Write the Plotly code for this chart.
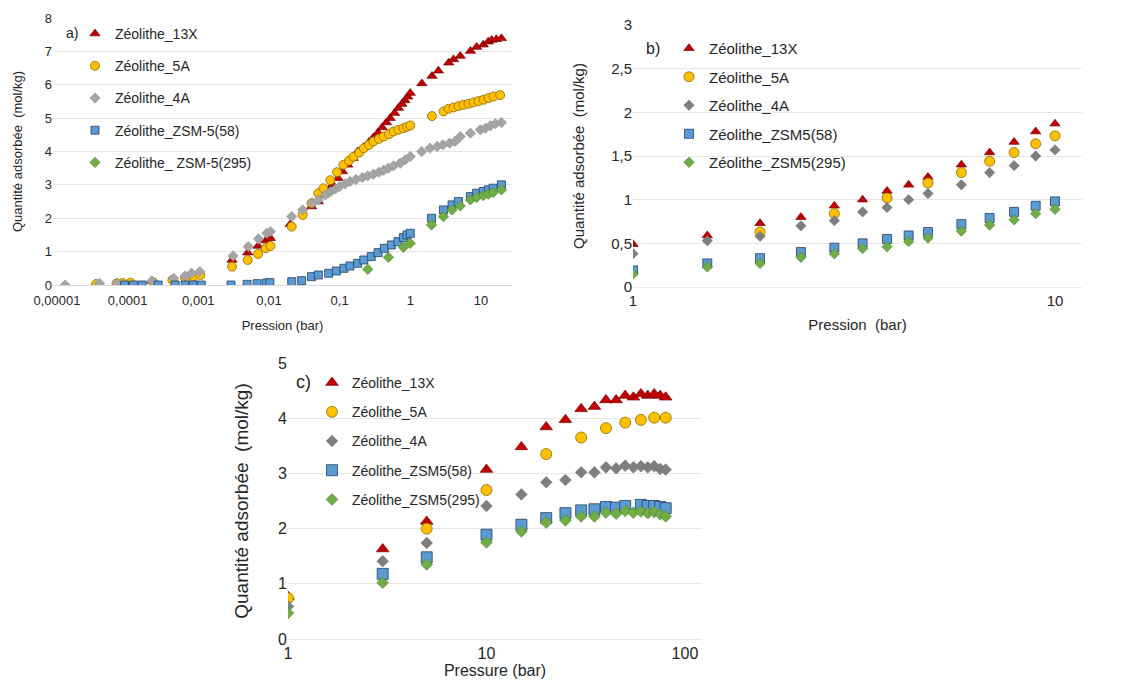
import plotly.graph_objects as go

# browser body margin is 8px: figure is sized to fit inside the 1130x698 window
OFF = 8
W, H = 1130 - OFF, 698 - OFF
FONT = "Liberation Sans, Arial, sans-serif"

# ---------------- Panel a) data ----------------
a_13x_p = [3.5e-5, 7e-5, 2.2e-4, 0.003, 0.005, 0.007, 0.009, 0.0105, 0.02, 0.04,
           0.05, 0.06, 0.07, 0.08, 0.095, 0.11, 0.13, 0.155, 0.18, 0.22, 0.26, 0.3,
           0.35, 0.4, 0.46, 0.52, 0.6, 0.68, 0.76, 0.84, 0.92, 1.0,
           1.46, 2.03, 2.5, 3.5, 4.1, 5.1, 7.1, 8.7, 10.8, 12.7, 14.2, 16.5, 19.5]
a_13x_q = [0.03, 0.05, 0.12, 0.75, 0.97, 1.17, 1.33, 1.4, 1.82, 2.35,
           2.5, 2.7, 2.84, 3.0, 3.2, 3.4, 3.6, 3.8, 4.0, 4.13, 4.28, 4.42,
           4.57, 4.72, 4.87, 5.0, 5.15, 5.3, 5.42, 5.53, 5.64, 5.75,
           6.04, 6.26, 6.42, 6.66, 6.76, 6.86, 7.01, 7.13, 7.2, 7.29, 7.34, 7.36, 7.39]

a_5a_p = [3.6e-5, 7e-5, 8.5e-5, 1.1e-4, 2.3e-4, 4.3e-4, 6.5e-4, 8.5e-4, 1.07e-3,
          0.003, 0.005, 0.007, 0.009, 0.0105, 0.021, 0.03, 0.04,
          0.05, 0.059, 0.074, 0.092, 0.113, 0.135, 0.157, 0.19, 0.22, 0.26, 0.3,
          0.36, 0.42, 0.5, 0.58, 0.68, 0.8, 0.9, 1.0,
          2.03, 2.96, 3.48, 4.1, 4.82, 5.68, 6.68, 7.86, 9.25, 10.9, 12.8, 15.1, 18.7]
a_5a_q = [0.03, 0.05, 0.06, 0.07, 0.08, 0.15, 0.2, 0.25, 0.3,
          0.55, 0.75, 0.93, 1.1, 1.17, 1.75, 2.1, 2.45,
          2.75, 2.9, 3.14, 3.38, 3.6, 3.72, 3.84, 3.97, 4.1, 4.2, 4.3,
          4.38, 4.45, 4.52, 4.6, 4.65, 4.7, 4.74, 4.78,
          5.06, 5.2, 5.28, 5.32, 5.36, 5.4, 5.43, 5.47, 5.51, 5.55, 5.6, 5.65, 5.69]

a_4a_p = [1.3e-5, 4e-5, 7e-5, 2.2e-4, 4.5e-4, 6.5e-4, 8e-4, 1.05e-3,
          0.0031, 0.0051, 0.0071, 0.0093, 0.0105, 0.021, 0.03, 0.041,
          0.05, 0.063, 0.075, 0.087, 0.1, 0.12, 0.14, 0.17, 0.21, 0.25, 0.3,
          0.36, 0.42, 0.49, 0.58, 0.72, 0.85, 1.0,
          1.45, 1.9, 2.4, 2.9, 3.6, 4.3, 5.1, 7.1, 9.8, 11.6, 13.6, 16.0, 19.5]
a_4a_q = [0.0, 0.05, 0.05, 0.12, 0.2, 0.27, 0.35, 0.4,
          0.87, 1.15, 1.38, 1.55, 1.6, 2.05, 2.25, 2.46,
          2.55, 2.7, 2.8, 2.88, 2.95, 3.03, 3.1, 3.16, 3.22, 3.27, 3.32,
          3.38, 3.44, 3.5, 3.57, 3.65, 3.75, 3.85,
          4.0, 4.1, 4.15, 4.2, 4.25, 4.3, 4.45, 4.55, 4.65, 4.7, 4.77, 4.83, 4.87]

a_z58_p = [9e-5, 1.2e-4, 1.6e-4, 2.7e-4, 4.7e-4, 6.5e-4, 8.5e-4, 1.1e-3,
           0.0029, 0.0049, 0.0068, 0.0092, 0.0103, 0.021, 0.029,
           0.04, 0.05, 0.07, 0.09, 0.115, 0.14, 0.18, 0.22, 0.28, 0.35, 0.43,
           0.54, 0.67, 0.8, 0.9, 1.0,
           2.0, 2.95, 3.9, 4.8, 7.1, 8.7, 10.8, 12.7, 14.9, 19.5]
a_z58_q = [0.0, 0.0, 0.0, 0.0, 0.0, 0.0, 0.0, 0.0,
           0.0, 0.02, 0.04, 0.06, 0.07, 0.1, 0.13,
           0.25, 0.3, 0.35, 0.42, 0.5, 0.57, 0.65, 0.75, 0.85, 0.97, 1.1,
           1.2, 1.3, 1.42, 1.5, 1.55,
           2.0, 2.25, 2.4, 2.5, 2.65, 2.75, 2.8, 2.85, 2.9, 3.0]

a_z295_p = [0.25, 0.49, 0.8, 1.0, 2.0, 2.95, 3.9, 5.1, 7.1, 8.7, 10.8, 12.7, 14.9, 19.5]
a_z295_q = [0.47, 0.83, 1.13, 1.25, 1.8, 2.05, 2.25, 2.37, 2.55, 2.62, 2.68, 2.72, 2.77, 2.85]

a_names = ["Zéolithe_13X", "Zéolithe_5A", "Zéolithe_4A",
           "Zéolithe_ZSM-5(58)", "Zéolithe_ ZSM-5(295)"]
a_xticks = [1e-5, 1e-4, 1e-3, 1e-2, 1e-1, 1, 10]
a_xticktext = ["0,00001", "0,0001", "0,001", "0,01", "0,1", "1", "10"]

# ---------------- Panel b) data ----------------
b_p = [1, 1.5, 2, 2.5, 3, 3.5, 4, 4.5, 5, 6, 7, 8, 9, 10]
b_13x = [0.49, 0.59, 0.73, 0.80, 0.93, 1.0, 1.10, 1.17, 1.26, 1.40, 1.54, 1.66, 1.78, 1.87]
b_5a_p = [2, 3, 4, 5, 6, 7, 8, 9, 10]
b_5a = [0.63, 0.84, 1.02, 1.19, 1.31, 1.44, 1.54, 1.64, 1.73]
b_4a = [0.38, 0.53, 0.58, 0.70, 0.76, 0.86, 0.91, 1.0, 1.07, 1.17, 1.31, 1.39, 1.50, 1.57]
b_z58 = [0.19, 0.27, 0.33, 0.40, 0.45, 0.50, 0.55, 0.59, 0.63, 0.72, 0.79, 0.86, 0.93, 0.98]
b_z295 = [0.15, 0.23, 0.27, 0.34, 0.38, 0.44, 0.46, 0.52, 0.56, 0.64, 0.71, 0.77, 0.84, 0.89]
b_names = ["Zéolithe_13X", "Zéolithe_5A", "Zéolithe_4A",
           "Zéolithe_ZSM5(58)", "Zéolithe_ZSM5(295)"]

# ---------------- Panel c) data ----------------
c_p = [1, 3, 5, 10, 15, 20, 25, 30, 35, 40, 45, 50, 55, 60, 65, 70, 75, 80]
c_13x = [0.77, 1.63, 2.13, 3.07, 3.48, 3.84, 3.97, 4.17, 4.21, 4.33, 4.33, 4.41,
         4.38, 4.44, 4.41, 4.44, 4.41, 4.38]
c_5a_p = [1, 5, 10, 20, 30, 40, 50, 60, 70, 80]
c_5a = [0.74, 2.0, 2.70, 3.35, 3.65, 3.82, 3.92, 3.97, 4.01, 4.01]
c_4a = [0.59, 1.41, 1.74, 2.41, 2.62, 2.84, 2.88, 3.02, 3.02, 3.11, 3.09, 3.14,
        3.11, 3.13, 3.11, 3.13, 3.08, 3.07]
c_z58_p = [3, 5, 10, 15, 20, 25, 30, 35, 40, 45, 50, 60, 65, 70, 75, 80]
c_z58 = [1.18, 1.48, 1.89, 2.07, 2.19, 2.28, 2.33, 2.35, 2.39, 2.38, 2.41, 2.43,
         2.41, 2.41, 2.39, 2.37]
c_z295 = [0.47, 1.02, 1.35, 1.75, 1.95, 2.11, 2.15, 2.22, 2.22, 2.29, 2.27, 2.32,
          2.29, 2.31, 2.28, 2.30, 2.26, 2.22]
c_names = b_names

# ---------------- styles ----------------
RED = dict(symbol="triangle-up", color="#C00000", line=dict(color="#7A0000", width=0.7))
GOLD = dict(symbol="circle", color="#FFC000", line=dict(color="#8C6A00", width=0.8))
GREY_A = dict(symbol="diamond", color="#A5A5A5", line=dict(color="#8A8A8A", width=0.5))
GREY = dict(symbol="diamond", color="#7F7F7F", line=dict(color="#6A6A6A", width=0.5))
BLUE = dict(symbol="square", color="#5B9BD5", line=dict(color="#24405E", width=0.8))
GREEN = dict(symbol="diamond", color="#70AD47", line=dict(color="#4E7F30", width=0.6))

fig = go.Figure()


def add(x, y, name, style, size, xa, ya, leg, grp):
    fig.add_trace(go.Scatter(
        x=x, y=y, name=name, mode="markers", xaxis=xa, yaxis=ya,
        legend=leg, legendgroup=grp,
        marker=dict(size=size, **style)))


# panel a
add(a_13x_p, a_13x_q, a_names[0], RED, 9, "x", "y", "legend", "a1")
add(a_5a_p, a_5a_q, a_names[1], GOLD, 9, "x", "y", "legend", "a2")
add(a_4a_p, a_4a_q, a_names[2], GREY_A, 8, "x", "y", "legend", "a3")
add(a_z58_p, a_z58_q, a_names[3], BLUE, 8, "x", "y", "legend", "a4")
add(a_z295_p, a_z295_q, a_names[4], GREEN, 8, "x", "y", "legend", "a5")
# panel b
add(b_p, b_13x, b_names[0], RED, 9, "x2", "y2", "legend2", "b1")
add(b_5a_p, b_5a, b_names[1], GOLD, 10, "x2", "y2", "legend2", "b2")
add(b_p, b_4a, b_names[2], GREY, 8, "x2", "y2", "legend2", "b3")
add(b_p, b_z58, b_names[3], BLUE, 9, "x2", "y2", "legend2", "b4")
add(b_p, b_z295, b_names[4], GREEN, 8, "x2", "y2", "legend2", "b5")
# panel c
add(c_p, c_13x, c_names[0], RED, 11, "x3", "y3", "legend3", "c1")
add(c_5a_p, c_5a, c_names[1], GOLD, 11, "x3", "y3", "legend3", "c2")
add(c_p, c_4a, c_names[2], GREY, 9, "x3", "y3", "legend3", "c3")
add(c_z58_p, c_z58, c_names[3], BLUE, 11, "x3", "y3", "legend3", "c4")
add(c_p, c_z295, c_names[4], GREEN, 9, "x3", "y3", "legend3", "c5")

GRID = "#E6E6E6"


def px_x(px):
    return (px - OFF) / W


def px_y(px):
    return 1 - (px - OFF) / H


axis_common = dict(showgrid=False, zeroline=False, ticks="", color="#262626",
                   automargin=False)
yaxis_common = dict(showgrid=True, gridcolor=GRID, zeroline=False, ticks="",
                    color="#262626", automargin=False)

fig.update_layout(
    width=W, height=H, autosize=False,
    margin=dict(l=0, r=0, t=0, b=0, pad=0, autoexpand=False),
    paper_bgcolor="white", plot_bgcolor="white",
    separators=", ",
    font=dict(family=FONT, color="#262626", size=13),
    showlegend=True,
    # panel a
    xaxis=dict(type="log", domain=[px_x(53), px_x(512)], range=[-5.057, 1.44],
               tickvals=a_xticks, ticktext=a_xticktext, tickfont=dict(size=13),
               ticklabelstandoff=3,
               showline=True, linecolor="#D9D9D9", anchor="y",
               title=dict(text="Pression (bar)", font=dict(size=13), standoff=14),
               **axis_common),
    yaxis=dict(domain=[px_y(285), px_y(18)], range=[0, 8], dtick=1,
               tickfont=dict(size=13), anchor="x",
               title=dict(text="Quantité adsorbée  (mol/kg)", font=dict(size=13), standoff=19),
               **yaxis_common),
    # panel b
    xaxis2=dict(type="log", domain=[px_x(633), px_x(1082)], range=[0, 1.064],
                tickvals=[1, 10], ticktext=["1", "10"], tickfont=dict(size=15),
                showline=True, linecolor="#EBEBEB", anchor="y2",
                title=dict(text="Pression  (bar)", font=dict(size=15), standoff=11),
                **axis_common),
    yaxis2=dict(domain=[px_y(287), px_y(25)], range=[0, 3], dtick=0.5,
                tickfont=dict(size=15), anchor="x2",
                title=dict(text="Quantité adsorbée  (mol/kg)", font=dict(size=15), standoff=22),
                **yaxis_common),
    # panel c
    xaxis3=dict(type="log", domain=[px_x(288), px_x(702)], range=[0, 2.086],
                tickvals=[1, 10, 100], ticktext=["1", "10", "100"],
                tickfont=dict(size=16),
                showline=True, linecolor="#E6E6E6", anchor="y3",
                title=dict(text="Pressure (bar)", font=dict(size=16), standoff=0),
                **axis_common),
    yaxis3=dict(domain=[px_y(639), px_y(363)], range=[0, 5], dtick=1,
                tickfont=dict(size=16), anchor="x3",
                title=dict(text="Quantité adsorbée  (mol/kg)", font=dict(size=19), standoff=24),
                **yaxis_common),
    legend=dict(x=px_x(75), y=px_y(18), xanchor="left", yanchor="top",
                bgcolor="rgba(0,0,0,0)", font=dict(size=14), tracegroupgap=11,
                itemwidth=30),
    legend2=dict(x=px_x(669), y=px_y(32), xanchor="left", yanchor="top",
                 bgcolor="rgba(0,0,0,0)", font=dict(size=15), tracegroupgap=6,
                 itemwidth=30),
    legend3=dict(x=px_x(312), y=px_y(367), xanchor="left", yanchor="top",
                 bgcolor="rgba(0,0,0,0)", font=dict(size=14),
                 tracegroupgap=8, itemwidth=30),
    annotations=[
        dict(text="a)", x=px_x(72), y=px_y(33), xref="paper", yref="paper",
             showarrow=False, font=dict(size=14), xanchor="center", yanchor="middle"),
        dict(text="b)", x=px_x(653), y=px_y(48), xref="paper", yref="paper",
             showarrow=False, font=dict(size=16), xanchor="center", yanchor="middle"),
        dict(text="c)", x=px_x(303), y=px_y(382), xref="paper", yref="paper",
             showarrow=False, font=dict(size=18), xanchor="center", yanchor="middle"),
    ],
)

fig.write_html("out.html")
